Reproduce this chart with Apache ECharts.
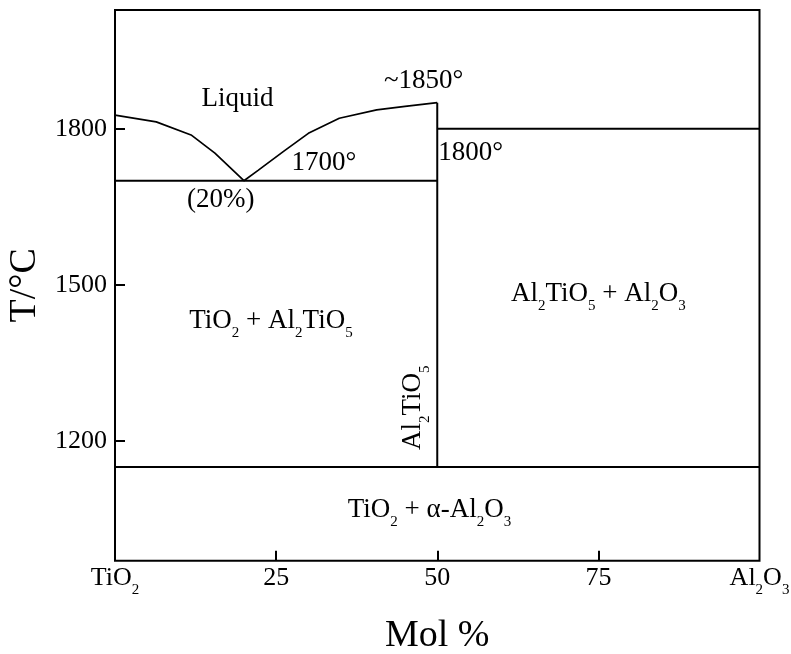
<!DOCTYPE html>
<html>
<head>
<meta charset="utf-8">
<script src="https://cdn.jsdelivr.net/npm/echarts@6/dist/echarts.min.js"></script>
<style>
  html, body { margin: 0; padding: 0; background: #fff; }
  #chart { width: 791px; height: 654px; }
</style>
</head>
<body>
<div id="chart"></div>
<script>
// Composition axis: mol % Al2O3 (pure TiO2 at 0, pure Al2O3 at 100)
const xTickValues = [0, 25, 50, 75, 100];
const xTickLabels = ['TiO{s|2}', '25', '50', '75', 'Al{s|2}O{s|3}'];
const xMarkValues = [25, 50, 75];

// Temperature axis, °C
const yTickValues = [1200, 1500, 1800];
const yRange = [970, 2028];

// Liquidus curve (mol %, °C), eutectic at 20 % and 1700 °C
const liquidus = [
  [0, 1826], [6.4, 1813], [11.8, 1788], [15.5, 1753], [20, 1700],
  [22.2, 1720], [26.1, 1756], [30, 1791], [34.8, 1820], [40.6, 1836],
  [45, 1843], [50, 1850]
];

// Phase boundaries
const eutecticLine      = [[0, 1700], [50, 1700]];
const al2tio5Line       = [[50, 1150], [50, 1850]];
const peritecticLine    = [[50, 1800], [100, 1800]];
const decompositionLine = [[0, 1150], [100, 1150]];

// Region and point annotations (anchor in mol %, °C)
const annotationText = [
  'Liquid', '1700°', '(20%)', '~1850°', '1800°',
  'TiO{s|2} + Al{s|2}TiO{s|5}', 'Al{s|2}TiO{s|5} + Al{s|2}O{s|3}',
  'TiO{s|2} + α-Al{s|2}O{s|3}', 'Al{s|2}TiO{s|5}'
];
const annotationAnchor = [
  [19.0, 1858], [32.4, 1735], [16.4, 1663], [47.9, 1892], [55.2, 1754],
  [24.2, 1430], [75.0, 1483], [48.8, 1067], [46.2, 1264]
];
const annotationRotate = [0, 0, 0, 0, 0, 0, 0, 0, 90];

const FONT = '"Liberation Serif", "Times New Roman", serif';
const INK = '#000';

// Subscript digits sit just below the baseline of the main text
const subStyle = {
  s: { fontSize: 15, lineHeight: 15, verticalAlign: 'bottom', fontFamily: FONT, color: INK }
};

const chart = echarts.init(document.getElementById('chart'), null, { renderer: 'canvas' });

function boundary(data, width) {
  return {
    type: 'line',
    data: data,
    showSymbol: false,
    symbol: 'none',
    silent: true,
    lineStyle: { color: INK, width: width },
    z: 3
  };
}

const option = {
  animation: false,
  backgroundColor: '#fff',
  grid: {
    left: 115, right: 31.5, top: 10, bottom: 93.3,
    containLabel: false,
    outerBoundsMode: 'none',
    show: true, borderColor: INK, borderWidth: 2, backgroundColor: 'transparent'
  },
  xAxis: {
    type: 'value',
    min: 0, max: 100,
    name: 'Mol %',
    nameLocation: 'middle',
    nameGap: 56,
    nameTextStyle: { fontFamily: FONT, fontSize: 38, color: INK },
    axisLine: { show: false },
    splitLine: { show: false },
    axisTick: {
      show: true, inside: true, length: 10,
      customValues: xMarkValues,
      lineStyle: { color: INK, width: 2 }
    },
    axisLabel: {
      show: true,
      customValues: xTickValues,
      showMinLabel: true, showMaxLabel: true, hideOverlap: false,
      margin: -2,
      fontFamily: FONT, fontSize: 26, lineHeight: 39, color: INK,
      rich: subStyle,
      formatter: function (v) {
        const i = xTickValues.indexOf(v);
        return i >= 0 ? xTickLabels[i] : '';
      }
    }
  },
  yAxis: {
    type: 'value',
    min: yRange[0], max: yRange[1],
    name: 'T/°C',
    nameLocation: 'middle',
    nameRotate: 90,
    nameGap: 68,
    nameTextStyle: { fontFamily: FONT, fontSize: 38, color: INK },
    axisLine: { show: false },
    splitLine: { show: false },
    axisTick: {
      show: true, inside: true, length: 10,
      customValues: yTickValues,
      lineStyle: { color: INK, width: 2 }
    },
    axisLabel: {
      show: true,
      customValues: yTickValues,
      margin: 8,
      fontFamily: FONT, fontSize: 26, color: INK,
      formatter: function (v) { return String(v); }
    }
  },
  series: [
    boundary(liquidus, 1.7),
    boundary(eutecticLine, 2),
    boundary(al2tio5Line, 2),
    boundary(peritecticLine, 2),
    boundary(decompositionLine, 2),
    {
      type: 'scatter',
      symbolSize: 0,
      silent: true,
      z: 4,
      itemStyle: { opacity: 1 },
      data: annotationText.map(function (t, i) {
        return {
          name: t,
          value: annotationAnchor[i],
          label: { rotate: annotationRotate[i] }
        };
      }),
      label: {
        show: true,
        position: 'inside',
        align: 'center',
        verticalAlign: 'middle',
        fontFamily: FONT,
        fontSize: 27,
        lineHeight: 39,
        color: INK,
        opacity: 1,
        rich: subStyle,
        formatter: function (p) { return p.name; }
      }
    }
  ]
};

chart.setOption(option);
</script>
</body>
</html>
